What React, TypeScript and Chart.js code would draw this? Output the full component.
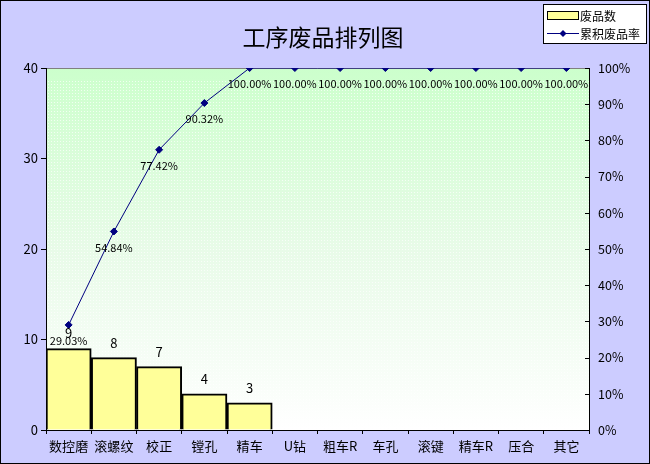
import React, { useEffect, useRef } from "react";
import { Chart, registerables } from "chart.js";

Chart.register(...registerables);

const categories = ["数控磨", "滚螺纹", "校正", "镗孔", "精车", "U钻", "粗车R", "车孔", "滚键", "精车R", "压合", "其它"];
const rejects = [9, 8, 7, 4, 3, 0, 0, 0, 0, 0, 0, 0];
const cumulativeRate = [29.03, 54.84, 77.42, 90.32, 100, 100, 100, 100, 100, 100, 100, 100];
const leftTicks = [0, 10, 20, 30, 40];

const FONT = "'Noto Sans CJK SC', 'DejaVu Sans', sans-serif";

const decorPlugin = {
    id: "decor",
    beforeDraw(chart: any) {
        const { ctx, chartArea: a, width, height } = chart;
        ctx.save();
        ctx.fillStyle = "#ccccff";
        ctx.fillRect(0, 0, width, height);

        // plot area: green fading to white, with a light dot pattern
        const g = ctx.createLinearGradient(0, a.top, 0, a.bottom);
        g.addColorStop(0, "#ccffcc");
        g.addColorStop(0.5, "#e8fbe8");
        g.addColorStop(1, "#ffffff");
        ctx.fillStyle = g;
        ctx.fillRect(a.left, a.top, a.right - a.left, a.bottom - a.top);

        const p = document.createElement("canvas");
        p.width = 3;
        p.height = 3;
        const pc = p.getContext("2d");
        if (pc) {
            pc.fillStyle = "rgba(255,255,255,0.7)";
            pc.fillRect(0, 0, 1, 1);
            ctx.fillStyle = ctx.createPattern(p, "repeat");
            ctx.fillRect(a.left, a.top + 12, a.right - a.left, a.bottom - a.top - 12);
        }

        // gray top border of plot area
        ctx.strokeStyle = "#808080";
        ctx.lineWidth = 1;
        ctx.beginPath();
        ctx.moveTo(a.left, a.top + 0.5);
        ctx.lineTo(a.right, a.top + 0.5);
        ctx.stroke();
        ctx.restore();
    },
    afterDatasetsDraw(chart: any) {
        const { ctx } = chart;
        ctx.save();
        ctx.fillStyle = "#000";
        ctx.textAlign = "center";
        ctx.textBaseline = "middle";

        // bar values
        ctx.font = `13px ${FONT}`;
        chart.getDatasetMeta(1).data.forEach((bar: any, i: number) => {
            if (rejects[i] > 0) ctx.fillText(String(rejects[i]), bar.x, bar.y - 15);
        });

        // cumulative rate labels
        ctx.font = `11px ${FONT}`;
        chart.getDatasetMeta(0).data.forEach((pt: any, i: number) => {
            ctx.fillText(cumulativeRate[i].toFixed(2) + "%", pt.x, pt.y + 16);
        });
        ctx.restore();
    },
    afterDraw(chart: any) {
        const { ctx, width, height, chartArea: a } = chart;
        ctx.save();

        // inward ticks on the right axis
        const y1 = chart.scales.y1;
        ctx.strokeStyle = "#000";
        ctx.lineWidth = 1;
        y1.ticks.forEach((_t: any, i: number) => {
            const y = Math.round(y1.getPixelForTick(i)) + 0.5;
            ctx.beginPath();
            ctx.moveTo(a.right - 4, y);
            ctx.lineTo(a.right, y);
            ctx.stroke();
        });

        // title
        ctx.fillStyle = "#000";
        ctx.font = `23px ${FONT}`;
        ctx.textAlign = "center";
        ctx.textBaseline = "middle";
        ctx.fillText("工序废品排列图", 323, 37);

        // legend
        ctx.fillStyle = "#fff";
        ctx.fillRect(543.5, 4.5, 103, 39);
        ctx.strokeStyle = "#000";
        ctx.strokeRect(543.5, 4.5, 103, 39);
        ctx.fillStyle = "#ffff99";
        ctx.fillRect(547.5, 11.5, 31, 8);
        ctx.strokeRect(547.5, 11.5, 31, 8);
        ctx.strokeStyle = "#000080";
        ctx.beginPath();
        ctx.moveTo(547, 33.5);
        ctx.lineTo(579, 33.5);
        ctx.stroke();
        ctx.fillStyle = "#000080";
        ctx.beginPath();
        ctx.moveTo(563, 30);
        ctx.lineTo(566.5, 33.5);
        ctx.lineTo(563, 37);
        ctx.lineTo(559.5, 33.5);
        ctx.closePath();
        ctx.fill();
        ctx.fillStyle = "#000";
        ctx.font = `12px ${FONT}`;
        ctx.textAlign = "left";
        ctx.fillText("废品数", 580, 16);
        ctx.fillText("累积废品率", 580, 34);

        // outer border
        ctx.strokeStyle = "#000";
        ctx.strokeRect(0.5, 0.5, width - 1, height - 1);
        ctx.restore();
    },
};

const App: React.FC = () => {
    const chartRef = useRef<HTMLCanvasElement | null>(null);
    const chartInstance = useRef<Chart | null>(null);

    useEffect(() => {
        document.body.style.margin = "0";
        const ctx = chartRef.current?.getContext("2d");
        if (!ctx) return;

        chartInstance.current = new Chart(ctx, {
            type: "bar",
            data: {
                labels: categories,
                datasets: [
                    {
                        type: "line",
                        label: "累积废品率",
                        data: cumulativeRate,
                        yAxisID: "y1",
                        borderColor: "#000080",
                        backgroundColor: "#000080",
                        borderWidth: 1,
                        pointStyle: "rectRot",
                        pointRadius: 3.5,
                        tension: 0,
                        order: 0,
                    } as any,
                    {
                        type: "bar",
                        label: "废品数",
                        data: rejects,
                        yAxisID: "y",
                        backgroundColor: "#ffff99",
                        borderColor: "#000",
                        borderWidth: 2,
                        barPercentage: 1,
                        categoryPercentage: 1,
                        order: 1,
                    },
                ],
            },
            options: {
                animation: false,
                responsive: true,
                maintainAspectRatio: false,
                layout: { padding: { top: 68, left: 0, right: 0, bottom: 0 } },
                plugins: {
                    legend: { display: false },
                    title: { display: false },
                    tooltip: { enabled: false },
                },
                scales: {
                    x: {
                        offset: true,
                        grid: { offset: true, drawOnChartArea: false, tickLength: 4, color: "#000" },
                        border: { color: "#000" },
                        ticks: { color: "#000", font: { size: 13, family: FONT }, padding: 4, maxRotation: 0, autoSkip: false },
                        afterFit: (s: any) => { s.height = 34; },
                    },
                    y: {
                        position: "left",
                        min: 0,
                        max: 40,
                        afterBuildTicks: (s: any) => { s.ticks = leftTicks.map((v) => ({ value: v })); },
                        grid: { drawOnChartArea: false, tickLength: 5, color: "#000" },
                        border: { color: "#000" },
                        ticks: { color: "#000", font: { size: 13, family: FONT }, padding: 3 },
                        afterFit: (s: any) => { s.width = 46; },
                    },
                    y1: {
                        position: "right",
                        min: 0,
                        max: 100,
                        grid: { drawOnChartArea: false, drawTicks: false },
                        border: { color: "#000" },
                        ticks: {
                            stepSize: 10,
                            color: "#000",
                            font: { size: 12.5, family: FONT },
                            padding: 9,
                            callback: (v: any) => `${v}%`,
                        },
                        afterFit: (s: any) => { s.width = 61; },
                    },
                },
            },
            plugins: [decorPlugin],
        });

        return () => {
            if (chartInstance.current) {
                chartInstance.current.destroy();
                chartInstance.current = null;
            }
        };
    }, []);

    return (
        <div style={{ width: 650, height: 464, position: "relative" }}>
            <canvas ref={chartRef}></canvas>
        </div>
    );
};

export default App;
